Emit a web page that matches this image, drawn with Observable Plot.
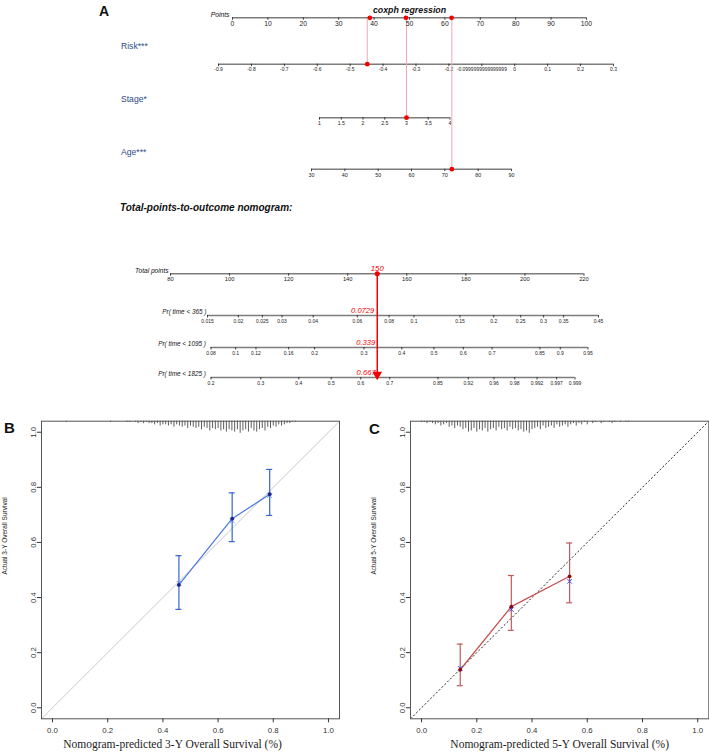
<!DOCTYPE html>
<html>
<head>
<meta charset="utf-8">
<script src="https://cdn.jsdelivr.net/npm/d3@7"></script>
<script src="https://cdn.jsdelivr.net/npm/@observablehq/plot@0.6"></script>
<style>
html,body{margin:0;padding:0;background:#fff;}
#root{position:relative;width:709px;height:754px;overflow:hidden;background:#fff;font-family:"Liberation Sans",Arial,sans-serif;}
#root > svg{position:absolute;}
.lbl{position:absolute;white-space:nowrap;line-height:1;transform:translateY(-50%);}
</style>
</head>
<body>
<div id="root"></div>
<script>
// ---------------- DATA ----------------
// Nomogram (panel A)
const pointsTicks = [0, 10, 20, 30, 40, 50, 60, 70, 80, 90, 100];
const riskTicks = [-0.9, -0.8, -0.7, -0.6, -0.5, -0.4, -0.3, -0.2, -0.1, 0, 0.1, 0.2, 0.3];
const riskTickLabels = ["-0.9", "-0.8", "-0.7", "-0.6", "-0.5", "-0.4", "-0.3", "-0.2", "-0.0999999999999999", "0", "0.1", "0.2", "0.3"];
const stageTicks = [1, 1.5, 2, 2.5, 3, 3.5, 4];
const ageTicks = [30, 40, 50, 60, 70, 80, 90];
const totalTicks = [80, 100, 120, 140, 160, 180, 200, 220];
const pr365Ticks = [0.015, 0.02, 0.025, 0.03, 0.04, 0.06, 0.08, 0.1, 0.15, 0.2, 0.25, 0.3, 0.35, 0.45];
const pr1095Ticks = [0.08, 0.1, 0.12, 0.16, 0.2, 0.3, 0.4, 0.5, 0.6, 0.7, 0.85, 0.9, 0.95];
const pr1825Ticks = [0.2, 0.3, 0.4, 0.5, 0.6, 0.7, 0.85, 0.92, 0.96, 0.98, 0.992, 0.997, 0.999];
const variableNames = ["Risk***", "Stage*", "Age***"];
const selectedValues = [-0.448, 3, 72.1];      // risk, stage, age
const selectedPoints = [38.8, 49.0, 61.9];      // points for risk, stage, age
const totalSelected = [150];
const probSelected = [0.0729, 0.339, 0.667];    // 365, 1095, 1825 days

// Calibration panel B (3-year)
const predB = [0.458, 0.651, 0.787];
const obsB  = [0.446, 0.686, 0.775];
const loB   = [0.357, 0.603, 0.698];
const hiB   = [0.552, 0.780, 0.865];
const corrB = [0.452, 0.679, 0.770];
const rugBx = [0.05,0.21,0.27,0.28,0.30,0.31,0.32,0.33,0.34,0.35,0.36,0.37,0.38,0.39,0.40,0.41,0.42,0.43,0.44,0.45,0.46,0.47,0.48,0.49,0.50,0.51,0.52,0.53,0.54,0.55,0.56,0.57,0.58,0.59,0.60,0.61,0.62,0.63,0.64,0.65,0.66,0.67,0.68,0.69,0.70,0.71,0.72,0.73,0.74,0.75,0.76,0.77,0.78,0.79,0.80,0.81,0.82,0.83,0.84,0.85,0.86,0.87,0.88];
const rugBn = [1,1,1,1,1,2,1,2,1,2,2,3,2,4,3,3,4,3,5,3,4,5,4,6,4,5,6,5,7,5,6,8,6,7,6,8,7,9,7,8,9,7,10,8,7,9,6,8,9,7,6,8,5,6,4,5,3,4,3,2,2,1,1];

// Calibration panel C (5-year)
const predC = [0.140, 0.325, 0.536];
const obsC  = [0.138, 0.367, 0.477];
const loC   = [0.080, 0.281, 0.381];
const hiC   = [0.231, 0.480, 0.598];
const corrC = [0.143, 0.357, 0.459];
const rugCx = [0.00,0.01,0.02,0.03,0.04,0.05,0.06,0.07,0.08,0.09,0.10,0.11,0.12,0.13,0.14,0.15,0.16,0.17,0.18,0.19,0.20,0.21,0.22,0.23,0.24,0.25,0.26,0.27,0.28,0.29,0.30,0.31,0.32,0.33,0.34,0.35,0.36,0.37,0.38,0.39,0.40,0.41,0.42,0.43,0.44,0.45,0.46,0.47,0.48,0.49,0.50,0.51,0.52,0.53,0.54,0.55,0.56,0.57,0.58,0.59,0.60,0.62,0.63,0.65,0.66,0.68,0.69,0.70,0.72,0.74,0.75];
const rugCn = [1,1,2,1,2,3,2,4,3,2,5,4,6,4,5,7,6,9,8,6,9,7,8,6,9,7,6,8,5,7,6,8,5,7,6,8,7,9,8,10,7,6,5,7,4,6,5,4,6,3,5,4,3,5,3,2,4,2,3,1,3,2,1,2,1,1,2,1,1,1,1];

const calTicks = [0, 0.2, 0.4, 0.6, 0.8, 1.0];
const calDomain = [-0.04, 1.04];

// ---------------- HELPERS ----------------
const root = document.getElementById("root");
const FONT = "'Liberation Sans', Arial, sans-serif";
const SERIF = "'Liberation Serif', 'Times New Roman', serif";
const RED = "#f20000";
const PINK = "#f3a9b8";
const AXIS = "#7d7d7d";
const cll = p => Math.log(-Math.log(1 - p));
const id = d => d;

function place(node, left, top, z) {
  node.style.left = left + "px";
  node.style.top = top + "px";
  if (z) node.style.zIndex = z;
  root.appendChild(node);
}
function label(text, left, cy, css) {
  const d = document.createElement("div");
  d.className = "lbl";
  d.textContent = text;
  d.style.left = left + "px";
  d.style.top = cy + "px";
  Object.assign(d.style, css);
  root.appendChild(d);
}
function rowPlot({top, axisY, x1, x2, domain, below = 12, yRange, marks}) {
  const h0 = axisY - top;
  return Plot.plot({
    width: 709, height: h0 + below,
    marginTop: 0, marginBottom: below, marginLeft: x1, marginRight: 709 - x2,
    x: {domain},
    y: {domain: [0, 1], range: yRange ?? [h0, 0], axis: null},
    style: {background: "transparent", fontFamily: FONT, overflow: "visible"},
    marks
  });
}
function axisRow(ticks, {x, format, fontSize, tickSize = 2.5, tickPadding = 1}) {
  return [
    Plot.ruleY([0], {stroke: AXIS, strokeWidth: 1.4}),
    Plot.axisX(ticks, {x, anchor: "bottom", tickSize, tickPadding, fontSize, tickFormat: format ?? (d => String(d)), color: "#1a1a1a", strokeWidth: 0.8, label: null})
  ];
}
function rowLabel(text, dx, size) {
  return Plot.text([text], {frameAnchor: "bottom-left", textAnchor: "end", dx, dy: -1.2, fontStyle: "italic", fontSize: size, fill: "#111"});
}

// ---------------- PANEL A: NOMOGRAM ----------------
const P_AXIS = 17.3;
// Points
place(rowPlot({top: 0, axisY: P_AXIS, x1: 232, x2: 586, domain: [0, 100], marks: [
  ...axisRow(pointsTicks, {fontSize: 6.8}),
  rowLabel("Points", -3, 6.8),
  Plot.text(["coxph regression"], {frameAnchor: "top", dy: 6, fontWeight: "bold", fontStyle: "italic", fontSize: 8.8, fill: "#111"}),
  Plot.dot(selectedPoints, {x: id, y: 0, r: 2.4, fill: RED})
]}), 0, 0, 5);

// Risk
place(rowPlot({top: P_AXIS, axisY: 64, x1: 218, x2: 613, domain: [-0.9, 0.3], marks: [
  Plot.ruleX([selectedValues[0]], {x: id, y1: 0, y2: 1, stroke: PINK, strokeWidth: 1}),
  ...axisRow(riskTicks, {fontSize: 5, format: (d, i) => riskTickLabels[i]}),
  Plot.dot([selectedValues[0]], {x: id, y: 0, r: 2.4, fill: RED})
]}), 0, P_AXIS);

// Stage
place(rowPlot({top: P_AXIS, axisY: 117.5, x1: 319, x2: 449.5, domain: [1, 4], marks: [
  Plot.ruleX([selectedValues[1]], {x: id, y1: 0, y2: 1, stroke: PINK, strokeWidth: 1}),
  ...axisRow(stageTicks, {fontSize: 5.2}),
  Plot.dot([selectedValues[1]], {x: id, y: 0, r: 2.4, fill: RED})
]}), 0, P_AXIS);

// Age
place(rowPlot({top: P_AXIS, axisY: 169, x1: 311, x2: 511, domain: [30, 90], marks: [
  Plot.ruleX([selectedValues[2]], {x: id, y1: 0, y2: 1, stroke: PINK, strokeWidth: 1}),
  ...axisRow(ageTicks, {fontSize: 5.4}),
  Plot.dot([selectedValues[2]], {x: id, y: 0, r: 2.4, fill: RED})
]}), 0, P_AXIS);

// Total points (with red arrow down to the last probability axis)
place(rowPlot({top: 255, axisY: 273.3, x1: 170, x2: 583.5, domain: [80, 220], yRange: [18.3, 122.3], marks: [
  ...axisRow(totalTicks, {fontSize: 5.8}),
  rowLabel("Total points", -2, 6.6),
  Plot.ruleX(totalSelected, {x: id, y1: 0, y2: 1, stroke: RED, strokeWidth: 1.5}),
  Plot.dot(totalSelected, {x: id, y: 1, symbol: "triangle", rotate: 180, r: 3.6, dy: -3.2, fill: RED}),
  Plot.dot(totalSelected, {x: id, y: 0, r: 2.5, fill: RED}),
  Plot.text(totalSelected, {x: id, y: 0, dy: -5.5, text: d => String(d), fill: RED, fontStyle: "italic", fontSize: 7.8})
]}), 0, 255, 3);

// Probability axes
const probRows = [
  {name: "Pr( time < 365 )", ticks: pr365Ticks, axisY: 315, x1: 207, x2: 598, dx: -1},
  {name: "Pr( time < 1095 )", ticks: pr1095Ticks, axisY: 346.7, x1: 210.5, x2: 587.5, dx: -5},
  {name: "Pr( time < 1825 )", ticks: pr1825Ticks, axisY: 377.3, x1: 210.5, x2: 574.5, dx: -5}
];
probRows.forEach((r, k) => {
  const t = r.ticks;
  place(rowPlot({top: r.axisY - 20, axisY: r.axisY, x1: r.x1, x2: r.x2, domain: [cll(t[0]), cll(t[t.length - 1])], marks: [
    ...axisRow(t, {x: cll, fontSize: 5}),
    rowLabel(r.name, r.dx, 6.4),
    Plot.text([probSelected[k]], {x: cll, y: 0, dy: -5, dx: -4.5, textAnchor: "end", text: d => String(d), fill: RED, fontStyle: "italic", fontSize: 7.6})
  ]}), 0, r.axisY - 20, 2);
});

label("A", 99, 11, {fontWeight: "bold", fontSize: "14px", color: "#111"});
const varLabelY = [46, 98.5, 152];
variableNames.forEach((n, i) => label(n, 121, varLabelY[i], {fontSize: "8.6px", color: "#2d4a86"}));
label("Total-points-to-outcome nomogram:", 120, 208, {fontWeight: "bold", fontStyle: "italic", fontSize: "10px", color: "#111"});

// ---------------- PANELS B & C: CALIBRATION ----------------
const rugUnit = 0.0044;
function calPlot({pred, obs, lo, hi, corr, rugX, rugN, lineColor, barColor, dotColor, corrColor, diagStroke, diagDash, xLabel, yLabel, xLabelDx, width, marginRight}) {
  const rows = pred.map((p, i) => ({pred: p, obs: obs[i], lo: lo[i], hi: hi[i], corr: corr[i]}));
  const rug = rugX.map((x, i) => ({x, n: rugN[i]}));
  return Plot.plot({
    width, height: 354, marginLeft: 41, marginRight, marginTop: 20.7, marginBottom: 35.7,
    x: {domain: calDomain}, y: {domain: calDomain},
    style: {background: "transparent", fontFamily: FONT, overflow: "visible"},
    marks: [
      Plot.link([calDomain], {x1: d => d[0], y1: d => d[0], x2: d => d[1], y2: d => d[1], stroke: diagStroke, strokeDasharray: diagDash, strokeWidth: 1}),
      Plot.ruleX(rug, {x: "x", y1: calDomain[1], y2: d => calDomain[1] - d.n * rugUnit, stroke: "#5e5e5e", strokeWidth: 1}),
      Plot.frame({stroke: "#555", strokeWidth: 1}),
      Plot.axisX(calTicks, {tickSize: 4, tickPadding: 5, fontSize: 7.8, tickFormat: d => d.toFixed(1), label: null, color: "#333"}),
      Plot.axisY(calTicks, {tickSize: 4, tickPadding: 1.5, tickRotate: -90, fontSize: 7.8, tickFormat: d => d.toFixed(1), label: null, color: "#333"}),
      Plot.ruleX(rows, {x: "pred", y1: "lo", y2: "hi", stroke: barColor, strokeWidth: 1.2}),
      Plot.ruleY(rows, {y: "lo", x1: "pred", x2: "pred", insetLeft: -3, insetRight: -3, stroke: barColor, strokeWidth: 1.2}),
      Plot.ruleY(rows, {y: "hi", x1: "pred", x2: "pred", insetLeft: -3, insetRight: -3, stroke: barColor, strokeWidth: 1.2}),
      Plot.line(rows, {x: "pred", y: "obs", stroke: lineColor, strokeWidth: 1.2}),
      Plot.dot(rows, {x: "pred", y: "corr", symbol: "times", r: 2.2, stroke: corrColor, strokeWidth: 1}),
      Plot.dot(rows, {x: "pred", y: "obs", r: 1.9, fill: dotColor}),
      Plot.text([xLabel], {frameAnchor: "bottom", dy: 29, dx: xLabelDx, fontFamily: SERIF, fontSize: 11.5, fill: "#222"}),
      Plot.text([yLabel], {frameAnchor: "left", rotate: -90, dx: -36.7, dy: 4.5, fontSize: 6.5, fill: "#222"})
    ]
  });
}

place(calPlot({pred: predB, obs: obsB, lo: loB, hi: hiB, corr: corrB, rugX: rugBx, rugN: rugBn,
  lineColor: "#4c78dc", barColor: "#3565d0", dotColor: "#16248c", corrColor: "#6f92e6",
  diagStroke: "#c8c8c8", diagDash: null,
  xLabel: "Nomogram-predicted 3-Y Overall Survival (%)", yLabel: "Actual 3-Y Overall Survival", xLabelDx: -18,
  width: 350, marginRight: 11}), 0, 400);

place(calPlot({pred: predC, obs: obsC, lo: loC, hi: hiC, corr: corrC, rugX: rugCx, rugN: rugCn,
  lineColor: "#c4504e", barColor: "#c05a58", dotColor: "#8a0b0b", corrColor: "#3048ff",
  diagStroke: "#222", diagDash: "2,2",
  xLabel: "Nomogram-predicted 5-Y Overall Survival (%)", yLabel: "Actual 5-Y Overall Survival", xLabelDx: 0,
  width: 340, marginRight: 0.7}), 369, 400);

label("B", 4, 427, {fontWeight: "bold", fontSize: "15px", color: "#111"});
label("C", 369, 428, {fontWeight: "bold", fontSize: "15px", color: "#111"});
</script>
</body>
</html>
